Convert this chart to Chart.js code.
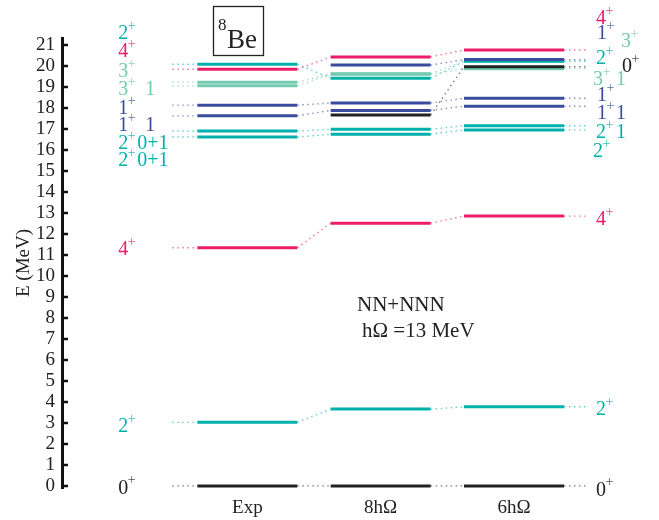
<!DOCTYPE html>
<html>
<head>
<meta charset="utf-8">
<script src="https://cdn.jsdelivr.net/npm/chart.js@4.4.1/dist/chart.umd.min.js"></script>
<style>
  body { margin: 0; background: #fff; }
  #wrap { width: 659px; height: 520px; }
</style>
</head>
<body>
<div id="wrap"><canvas id="chart"></canvas></div>
<script>
// columns of the level scheme
const columns = ["Exp", "8hΩ", "6hΩ"];
const yTicks = [0, 1, 2, 3, 4, 5, 6, 7, 8, 9, 10, 11, 12, 13, 14, 15, 16, 17, 18, 19, 20, 21];

// one entry per state, same index in each column (MeV), null = not shown
const states = ["0+", "2+", "4+", "2+ (a)", "2+ (b)", "1+ T=1", "1+", "3+ T=1", "3+", "4+ (2)", "2+ (2)", "0+ (2)", "1+ (2)"];
const expE = [0, 3.03, 11.35, 16.63, 16.92, 17.64, 18.15, 19.07, 19.24, 19.86, 20.10, null, null];
const e8 = [0, 3.66, 12.52, 16.76, 17.00, 17.90, 18.25, 19.62, 19.65, 20.45, 19.43, 17.68, 20.06];
const e6 = [0, 3.77, 12.86, 16.97, 17.17, 18.10, 18.48, 19.89, 20.25, 20.78, 20.24, 19.98, 20.32];

// styles
const palette = {
  black: "#222222",
  teal: "#00b0aa",
  pink: "#ec1c68",
  blue: "#3a4c9e",
  lgreen: "#74caaf"
};
const stateColor = ["black", "teal", "pink", "teal", "teal", "blue", "blue", "lgreen", "lgreen", "pink", "teal", "black", "blue"];
const stateLayer = [4, 4, 4, 4, 4, 4, 4, 6, 6, 4, 3, 2, 1];

// level line geometry, in x-axis units
const half = 0.375;
const stub = 0.1875;

function hexA(hex, a) {
  const n = parseInt(hex.slice(1), 16);
  return `rgba(${n >> 16},${(n >> 8) & 255},${n & 255},${a})`;
}

function pathFor(i) {
  const vals = [expE[i], e8[i], e6[i]];
  const pts = [{ x: 1 - half - stub, y: vals[0] }];
  vals.forEach((v, c) => {
    pts.push({ x: c + 1 - half, y: v });
    pts.push({ x: c + 1 + half, y: v });
  });
  pts.push({ x: 3 + half + stub, y: vals[2] });
  return pts;
}

const datasets = [];
states.forEach((name, i) => {
  const col = palette[stateColor[i]];
  // dotted connectors and stubs (even segments)
  datasets.push({
    label: name + " link",
    data: pathFor(i),
    borderWidth: 1.4,
    borderColor: hexA(col, 0.6),
    pointRadius: 0,
    spanGaps: false,
    order: 100,
    segment: {
      borderColor: ctx => ctx.p0DataIndex % 2 === 0 ? hexA(col, 0.6) : "transparent",
      borderDash: () => [1.5, 3.5]
    }
  });
  // solid levels (odd segments)
  datasets.push({
    label: name,
    data: pathFor(i),
    borderWidth: 3,
    borderColor: col,
    borderCapStyle: "butt",
    pointRadius: 0,
    spanGaps: false,
    order: 10 + stateLayer[i],
    segment: {
      borderColor: ctx => ctx.p0DataIndex % 2 === 1 ? col : "transparent"
    }
  });
});

// text labels beside the levels (energy where the label sits)
const leftTags = [
  { t: "2", a: "", c: "teal", at: 21.62 },
  { t: "4", a: "", c: "pink", at: 20.76 },
  { t: "3", a: "", c: "lgreen", at: 19.81 },
  { t: "3", a: "1", ax: 27, c: "lgreen", at: 18.95 },
  { t: "1", a: "", c: "blue", at: 18.05 },
  { t: "1", a: "1", ax: 27, c: "blue", at: 17.24 },
  { t: "2", a: "0+1", ax: 19, c: "teal", at: 16.38 },
  { t: "2", a: "0+1", ax: 19, c: "teal", at: 15.57 },
  { t: "4", a: "", c: "pink", at: 11.33 },
  { t: "2", a: "", c: "teal", at: 2.90 },
  { t: "0", a: "", c: "black", at: -0.05 }
];
const rightTags = [
  { t: "4", a: "", c: "pink", at: 22.33, dx: 7 },
  { t: "1", a: "", c: "blue", at: 21.62, dx: 8 },
  { t: "3", a: "", c: "lgreen", at: 21.24, dx: 32 },
  { t: "2", a: "", c: "teal", at: 20.43, dx: 7 },
  { t: "0", a: "", c: "black", at: 20.05, dx: 33 },
  { t: "3", a: "1", ax: 23, c: "lgreen", at: 19.43, dx: 4 },
  { t: "1", a: "", c: "blue", at: 18.67, dx: 8 },
  { t: "1", a: "1", ax: 19, c: "blue", at: 17.81, dx: 8 },
  { t: "2", a: "1", ax: 20, c: "teal", at: 16.90, dx: 7 },
  { t: "2", a: "", c: "teal", at: 16.00, dx: 4 },
  { t: "4", a: "", c: "pink", at: 12.76, dx: 7 },
  { t: "2", a: "", c: "teal", at: 3.71, dx: 7 },
  { t: "0", a: "", c: "black", at: -0.14, dx: 7 }
];

const SERIF = '"Liberation Serif", "DejaVu Serif", serif';

function drawTag(ctx, tag, x, y) {
  const col = palette[tag.c];
  ctx.textAlign = "left";
  ctx.textBaseline = "alphabetic";
  ctx.fillStyle = col;
  ctx.font = "20px " + SERIF;
  ctx.fillText(tag.t, x, y + 7);
  const w = ctx.measureText(tag.t).width;
  if (tag.a) ctx.fillText(tag.a, x + tag.ax, y + 7);
  ctx.font = "14px " + SERIF;
  ctx.fillStyle = hexA(col, 0.8);
  ctx.fillText("+", x + w - 0.5, y - 2.5);
}

const levelText = {
  id: "levelText",
  afterDraw(chart) {
    const { ctx, scales: { x, y }, chartArea } = chart;
    ctx.save();
    // inward tick marks on the energy axis
    ctx.strokeStyle = "#111";
    ctx.lineWidth = 2.5;
    yTicks.forEach(v => {
      const py = Math.round(y.getPixelForValue(v));
      ctx.beginPath();
      ctx.moveTo(chartArea.left, py);
      ctx.lineTo(chartArea.left + 6, py);
      ctx.stroke();
    });
    const lx = x.getPixelForValue(1 - half - stub) - 54;
    leftTags.forEach(tag => drawTag(ctx, tag, lx, y.getPixelForValue(tag.at)));
    const rx = x.getPixelForValue(3 + half + stub);
    rightTags.forEach(tag => drawTag(ctx, tag, rx + tag.dx, y.getPixelForValue(tag.at)));

    // nucleus box
    ctx.strokeStyle = "#222";
    ctx.lineWidth = 1.3;
    ctx.strokeRect(213.5, 6.5, 50, 49);
    ctx.fillStyle = "#222";
    ctx.font = "17px " + SERIF;
    ctx.fillText("8", 218, 30);
    ctx.font = "27px " + SERIF;
    ctx.fillText("Be", 227, 48);

    // interaction note
    ctx.font = "21px " + SERIF;
    ctx.fillText("NN+NNN", 357, 311);
    ctx.fillText("hΩ =13 MeV", 362, 337);
    ctx.restore();
  }
};

new Chart(document.querySelector("#chart"), {
  type: "line",
  data: { datasets: datasets },
  options: {
    responsive: true,
    maintainAspectRatio: false,
    animation: false,
    layout: { padding: { top: 38, right: 9, left: 0, bottom: 0 } },
    plugins: { legend: { display: false }, tooltip: { enabled: false } },
    scales: {
      x: {
        type: "linear",
        min: -0.39,
        max: 4.02,
        afterBuildTicks: s => { s.ticks = columns.map((c, i) => ({ value: i + 1 })); },
        afterFit: s => { s.height = 32; },
        grid: { display: false, drawTicks: false },
        border: { display: false },
        ticks: {
          autoSkip: false,
          maxRotation: 0,
          padding: 9,
          color: "#222",
          font: { family: SERIF, size: 19 },
          callback: v => columns[Math.round(v) - 1]
        }
      },
      y: {
        min: -0.1,
        max: 21.35,
        afterBuildTicks: s => { s.ticks = yTicks.map(v => ({ value: v })); },
        afterFit: s => { s.width = 62; },
        grid: { display: false, drawTicks: false },
        border: { display: true, color: "#111", width: 3 },
        ticks: {
          autoSkip: false,
          padding: 7,
          color: "#222",
          font: { family: SERIF, size: 19 }
        },
        title: {
          display: true,
          text: "E (MeV)",
          color: "#222",
          font: { family: SERIF, size: 19 },
          padding: { top: 13, bottom: 0 }
        }
      }
    }
  },
  plugins: [levelText]
});
</script>
</body>
</html>
